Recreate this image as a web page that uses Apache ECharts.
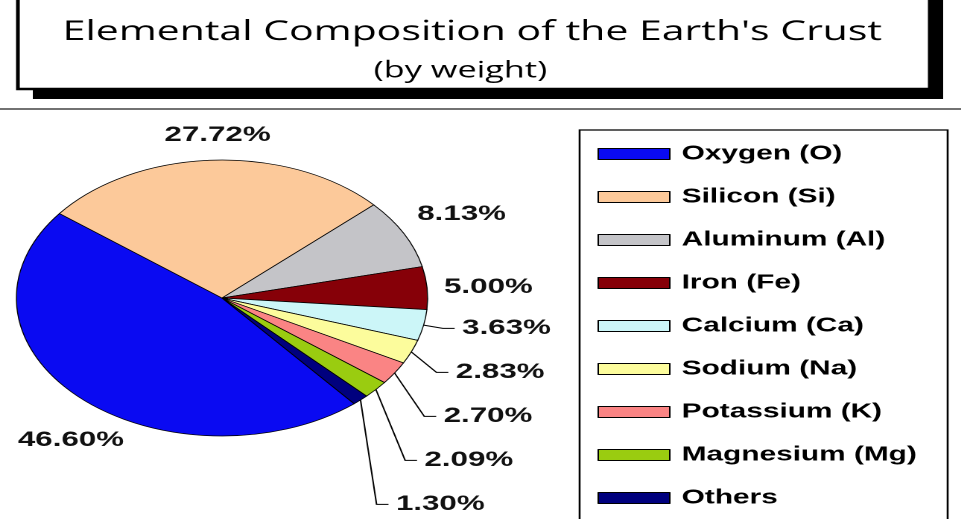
<!DOCTYPE html>
<html>
<head>
<meta charset="utf-8">
<script src="https://cdn.jsdelivr.net/npm/echarts@6/dist/echarts.min.js"></script>
<style>
  html, body { margin: 0; padding: 0; background: #fff; overflow: hidden; }
  #wrap { width: 961px; height: 519px; overflow: hidden; position: relative; }
  /* the original picture is stretched sideways, so draw narrow and scale;
     the chart runs a bit past the bottom edge, like the cut-off legend box */
  #chart { position: absolute; left: 0; top: 0; width: 645px; height: 560px;
           transform: scaleX(1.49); transform-origin: 0 0; }
</style>
</head>
<body>
<div id="wrap"><div id="chart"></div></div>
<script>
// data
const elements = ['Oxygen (O)', 'Silicon (Si)', 'Aluminum (Al)', 'Iron (Fe)', 'Calcium (Ca)',
  'Sodium (Na)', 'Potassium (K)', 'Magnesium (Mg)', 'Others'];
const percents = [46.60, 27.72, 8.13, 5.00, 3.63, 2.83, 2.70, 2.09, 1.30];
const colors = ['#0a0af2', '#fcc99a', '#c4c4c8', '#860008', '#ccf6f8', '#fcfc9c', '#fa8484', '#9acc10', '#00007e'];
const titleText = 'Elemental Composition of the Earth\'s Crust';
const subText = '(by weight)';

const chart = echarts.init(document.getElementById('chart'), null, { devicePixelRatio: 2 });

// big slices: no leader line, label placed by hand
const freeLabels = {
  0: { x: 12, y: 440, align: 'left' },
  1: { x: 146, y: 135, align: 'center' },
  2: { x: 280, y: 214, align: 'left' },
  3: { x: 298, y: 287, align: 'left' }
};

const pieData = elements.map((name, i) => ({
  name: name,
  value: percents[i],
  itemStyle: { color: colors[i] },
  labelLine: { show: i > 3 },
  // small slices get tall label boxes so they spread down like the original
  label: i > 3 ? { lineHeight: 42 } : { width: 110 }
}));

const option = {
  backgroundColor: '#fff',
  animation: false,
  graphic: [
    // title frame with its shadow
    { type: 'rect', z: 1, shape: { x: 22, y: -5, width: 611, height: 104 }, style: { fill: '#000' } },
    { type: 'rect', z: 2, shape: { x: 12, y: -10, width: 612, height: 99 },
      style: { fill: '#fff', stroke: '#000', lineWidth: 2.5 } },
    { type: 'text', z: 3, x: 317, y: 32,
      style: { text: titleText, textAlign: 'center', textVerticalAlign: 'middle',
               font: '27.5px "Open Sans", sans-serif', fill: '#000' } },
    { type: 'text', z: 3, x: 309, y: 71,
      style: { text: subText, textAlign: 'center', textVerticalAlign: 'middle',
               font: '23px "Open Sans", sans-serif', fill: '#000' } },
    // separator
    { type: 'line', z: 1, shape: { x1: 0, y1: 109, x2: 645, y2: 109 },
      style: { stroke: '#444', lineWidth: 1.5 } },
    // legend frame
    { type: 'rect', z: 1, shape: { x: 389, y: 130, width: 247, height: 460 },
      style: { fill: 'none', stroke: '#000', lineWidth: 1.3 } }
  ],
  legend: {
    orient: 'vertical',
    left: 396,
    top: 139,
    itemWidth: 48,
    itemHeight: 11,
    itemGap: 23,
    icon: 'rect',
    itemStyle: { borderColor: '#000', borderWidth: 1 },
    textStyle: { fontFamily: 'Liberation Sans, Arial', fontWeight: 'bold', fontSize: 20,
                 color: '#000', lineHeight: 20, padding: [0, 0, 0, 3] },
    data: elements
  },
  series: [{
    type: 'pie',
    center: [149, 298],
    radius: 138,
    startAngle: 310,
    clockwise: true,
    avoidLabelOverlap: true,
    itemStyle: { borderColor: '#000', borderWidth: 0.7 },
    label: {
      position: 'outside',
      formatter: p => p.value.toFixed(2) + '%',
      fontFamily: 'Liberation Sans, Arial',
      fontWeight: 'bold',
      fontSize: 21,
      color: '#111'
    },
    labelLine: { length: 16, length2: 8, lineStyle: { color: '#000', width: 1 } },
    labelLayout: p => {
      const f = freeLabels[p.dataIndex];
      return f ? { x: f.x, y: f.y, align: f.align, verticalAlign: 'middle' } : {};
    },
    emphasis: { disabled: true },
    data: pieData
  }]
};

chart.setOption(option);
window.addEventListener('resize', () => chart.resize());
</script>
</body>
</html>
